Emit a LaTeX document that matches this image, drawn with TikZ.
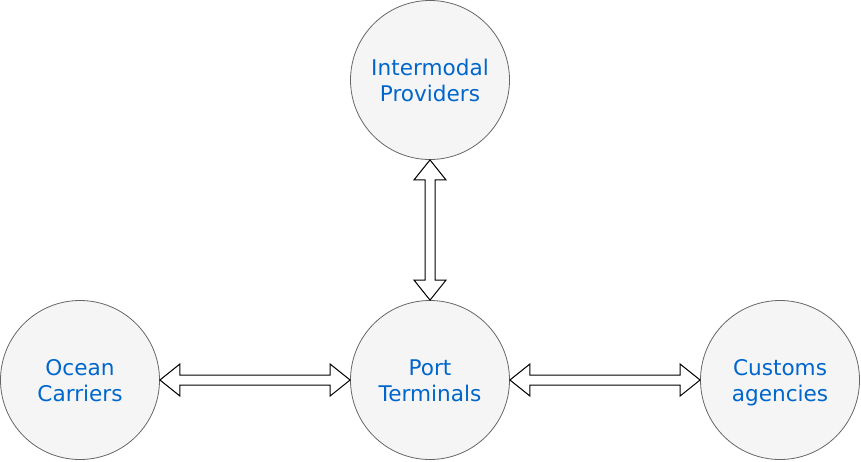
\documentclass[tikz,border=0pt]{standalone}
\usepackage{fontspec}
\setmainfont{DejaVu Sans}
\usetikzlibrary{calc}
\definecolor{circfill}{HTML}{F5F5F5}
\definecolor{circline}{HTML}{666666}
\definecolor{txtblue}{HTML}{0066CC}
\tikzset{
  actor/.style={circle, draw=circline, fill=circfill, line width=0.8pt, minimum size=159pt, inner sep=0pt,
    text=txtblue, align=center, font=\fontsize{21.6}{26}\selectfont, text height=46pt, text depth=3.6pt},
  fatarrow/.style={draw=black, fill=white, line width=1pt, line join=miter}
}
\begin{document}
\begin{tikzpicture}[x=1pt,y=-1pt]
\useasboundingbox (0,0) rectangle (861,461);
\node[actor] (im) at (430,80) {Intermodal\\Providers};
\node[actor] (oc) at (80,380) {Ocean\\Carriers};
\node[actor] (pt) at (430,380) {Port\\Terminals};
\node[actor] (cu) at (780,380) {Customs\\agencies};
% horizontal double arrows
\foreach \a/\b in {oc/pt, pt/cu}{
  \draw[fatarrow] (\a.east) -- ($(\a.east)+(20,-16)$) -- ($(\a.east)+(20,-5)$)
    -- ($(\b.west)+(-20,-5)$) -- ($(\b.west)+(-20,-16)$) -- (\b.west)
    -- ($(\b.west)+(-20,16)$) -- ($(\b.west)+(-20,5)$)
    -- ($(\a.east)+(20,5)$) -- ($(\a.east)+(20,16)$) -- cycle;
}
% vertical double arrow
\draw[fatarrow] (im.south) -- ($(im.south)+(16,20)$) -- ($(im.south)+(5,20)$)
  -- ($(pt.north)+(5,-20)$) -- ($(pt.north)+(16,-20)$) -- (pt.north)
  -- ($(pt.north)+(-16,-20)$) -- ($(pt.north)+(-5,-20)$)
  -- ($(im.south)+(-5,20)$) -- ($(im.south)+(-16,20)$) -- cycle;
\end{tikzpicture}
\end{document}
